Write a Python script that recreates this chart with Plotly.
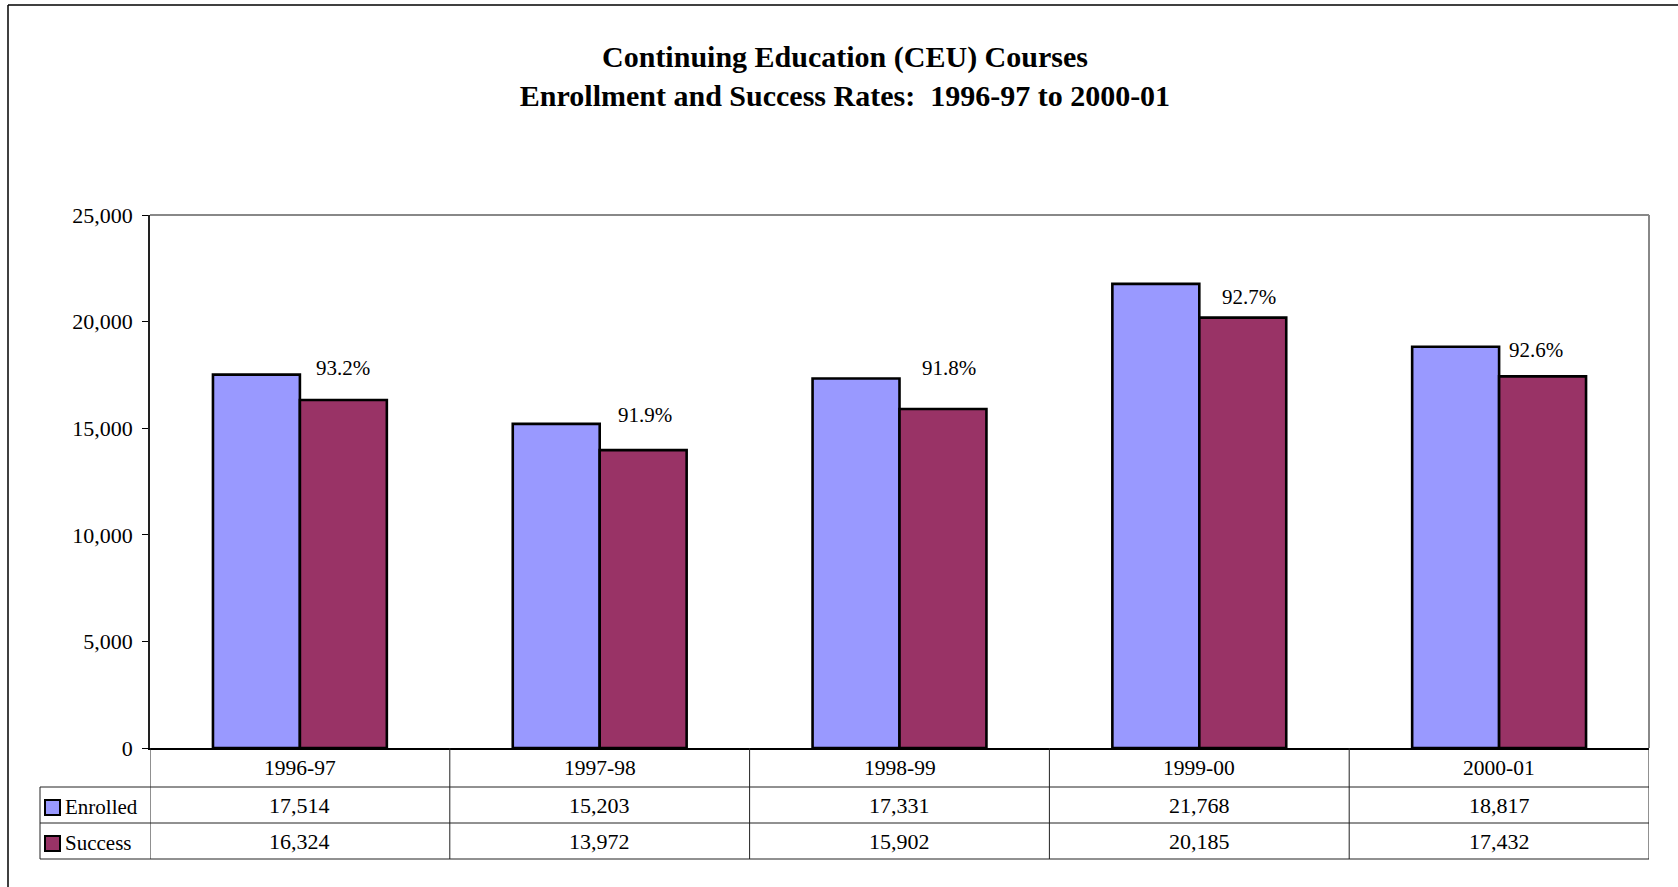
import plotly.graph_objects as go

# ---- data -------------------------------------------------------------
years = ["1996-97", "1997-98", "1998-99", "1999-00", "2000-01"]
enrolled = [17514, 15203, 17331, 21768, 18817]
success = [16324, 13972, 15902, 20185, 17432]
series_names = ["Enrolled", "Success"]

# ---- styling ------------------------------------------------------------
ENROLL_COLOR = "#9999FF"
SUCCESS_COLOR = "#993366"
FONT = "Times New Roman, Liberation Serif, serif"

W, H = 1678, 887
L, R, T, B = 150, 29, 215, 139          # plot area in pixels
PLOT_W = W - L - R
PLOT_H = H - T - B
BAR_PX = 87                               # width of one bar in pixels

# rate-label nudges (pixels): lift above the success bar top, horizontal tweak
label_lift = [32, 35, 41, 21, 26]
label_dx = [0, 2, 6, 6, -7]


def py(pix):
    """pixel row -> paper y"""
    return (H - B - pix) / PLOT_H


def px(pix):
    """pixel column -> paper x"""
    return (pix - L) / PLOT_W


fig = go.Figure()
fig.add_trace(go.Bar(
    x=years, y=enrolled, name=series_names[0],
    marker=dict(color=ENROLL_COLOR, line=dict(color="black", width=2.6)),
    showlegend=False,
))
fig.add_trace(go.Bar(
    x=years, y=success, name=series_names[1],
    marker=dict(color=SUCCESS_COLOR, line=dict(color="black", width=2.6)),
    showlegend=False,
))

annotations = []
shapes = []

# success-rate labels above the success bars
for i, yr in enumerate(years):
    rate = success[i] / enrolled[i] * 100
    annotations.append(dict(
        x=yr, y=success[i], xref="x", yref="y",
        text=f"{rate:.1f}%", showarrow=False,
        xshift=BAR_PX / 2 + label_dx[i], yshift=label_lift[i],
        font=dict(family=FONT, size=21, color="black"),
        xanchor="center", yanchor="middle",
    ))

# ---- data table under the chart ------------------------------------------
ROW_TOP, ROW1, ROW2, ROW_BOT = 748, 787, 823, 859
LEGEND_LEFT = 40
LINE = dict(color="#222222", width=1)

# vertical column separators (category boundaries)
for k in range(len(years) + 1):
    shapes.append(dict(type="line", xref="x", yref="paper",
                       x0=k - 0.5, x1=k - 0.5, y0=py(ROW_TOP), y1=py(ROW_BOT),
                       line=LINE))
# legend column left edge
shapes.append(dict(type="line", xref="paper", yref="paper",
                   x0=px(LEGEND_LEFT), x1=px(LEGEND_LEFT),
                   y0=py(ROW1), y1=py(ROW_BOT), line=LINE))
# horizontal rules
for r in (ROW1, ROW2, ROW_BOT):
    shapes.append(dict(type="line", xref="paper", yref="paper",
                       x0=px(LEGEND_LEFT), x1=1, y0=py(r), y1=py(r), line=LINE))

cell_font = dict(family=FONT, size=22, color="black")
head_font = dict(family=FONT, size=21.5, color="black")
row_centers = [(ROW_TOP + ROW1) / 2, (ROW1 + ROW2) / 2, (ROW2 + ROW_BOT) / 2]
for i, yr in enumerate(years):
    cells = [yr, f"{enrolled[i]:,}", f"{success[i]:,}"]
    for j, (rc, txt) in enumerate(zip(row_centers, cells)):
        annotations.append(dict(x=yr, y=py(rc), xref="x", yref="paper",
                                text=txt, showarrow=False,
                                font=head_font if j == 0 else cell_font,
                                xanchor="center", yanchor="middle"))

# legend keys and names in the first column
for rc, name, color in zip(row_centers[1:], series_names,
                           [ENROLL_COLOR, SUCCESS_COLOR]):
    shapes.append(dict(type="rect", xref="paper", yref="paper",
                       x0=px(45), x1=px(60), y0=py(rc + 10), y1=py(rc - 5),
                       fillcolor=color, line=dict(color="black", width=2)))
    annotations.append(dict(x=px(63), y=py(rc + 2), xref="paper", yref="paper",
                            text=name, showarrow=False,
                            font=dict(family=FONT, size=21, color="black"),
                            xanchor="left", yanchor="middle"))

# plot-area frame: grey top and right edges
GREY = dict(color="#888888", width=2)
shapes.append(dict(type="line", xref="paper", yref="paper",
                   x0=0, x1=1, y0=1, y1=1, line=GREY))
shapes.append(dict(type="line", xref="paper", yref="paper",
                   x0=1, x1=1, y0=0, y1=1, line=GREY))

# chart-area border (left and top)
BORDER = dict(color="black", width=1.5)
shapes.append(dict(type="line", xref="paper", yref="paper",
                   x0=px(8), x1=px(8), y0=py(5), y1=py(H + 5), line=BORDER))
shapes.append(dict(type="line", xref="paper", yref="paper",
                   x0=px(8), x1=px(W + 5), y0=py(5), y1=py(5), line=BORDER))

fig.update_layout(
    width=W, height=H,
    margin=dict(l=L, r=R, t=T, b=B),
    paper_bgcolor="white", plot_bgcolor="white",
    barmode="group", bargap=0.42, bargroupgap=0,
    font=dict(family=FONT, size=21, color="black"),
    title=dict(
        text="<b>Continuing Education (CEU) Courses<br>"
             "Enrollment and Success Rates:&nbsp; 1996-97 to 2000-01</b>",
        x=845 / W, xanchor="center", xref="container",
        y=1 - 67 / H, yanchor="middle", yref="container",
        font=dict(family=FONT, size=30, color="black"),
    ),
    xaxis=dict(
        type="category", range=[-0.5, len(years) - 0.5],
        showticklabels=False, ticks="", showgrid=False, zeroline=False,
        showline=True, linecolor="black", linewidth=1.5,
    ),
    yaxis=dict(
        range=[0, 25000], dtick=5000, tickformat=",",
        showgrid=False, zeroline=False,
        showline=True, linecolor="#222222", linewidth=1.5,
        ticks="outside", ticklen=6, tickcolor="black", tickwidth=1,
        ticklabelstandoff=5,
        tickfont=dict(family=FONT, size=22, color="black"),
    ),
    shapes=shapes,
    annotations=annotations,
)

fig.write_html("out.html")
